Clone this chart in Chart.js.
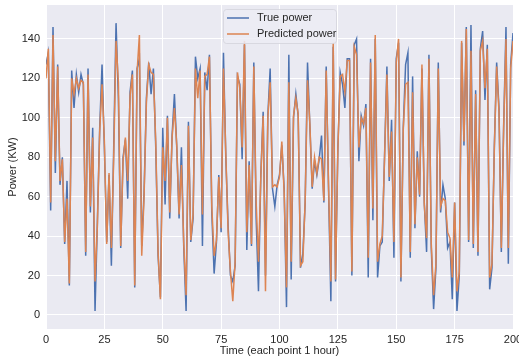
<!DOCTYPE html>
<html>
<head>
<meta charset="utf-8">
<script src="https://cdn.jsdelivr.net/npm/chart.js@4/dist/chart.umd.min.js"></script>
<style>
  html, body { margin: 0; padding: 0; background: #fff; }
  #wrap { width: 519px; height: 357px; }
</style>
</head>
<body>
<div id="wrap"><canvas id="myChart" width="519" height="357"></canvas></div>
<script>
// values, one per hour (0..200)
const truePower = [
  127, 133, 53, 146, 72, 127, 66, 80, 36, 68,
  15, 124, 105, 122, 113, 122, 117, 30, 125, 52,
  95, 2, 47, 95, 127, 85, 37, 71, 25, 85,
  148, 110, 34, 80, 89, 59, 113, 124, 14, 125,
  130, 35, 62, 110, 128, 112, 125, 85, 30, 9,
  95, 56, 101, 49, 91, 112, 85, 49, 85, 34,
  2, 98, 37, 49, 131, 120, 125, 35, 123, 114,
  132, 52, 21, 37, 71, 42, 133, 80, 45, 20,
  17, 25, 121, 117, 79, 137, 33, 78, 35, 128,
  49, 12, 71, 103, 20, 101, 125, 64, 55, 66,
  71, 86, 64, 4, 132, 18, 100, 112, 101, 24,
  31, 57, 128, 96, 64, 78, 71, 79, 91, 57,
  126, 64, 7, 136, 17, 85, 123, 117, 105, 130,
  130, 20, 137, 140, 78, 101, 96, 107, 19, 130,
  48, 140, 19, 35, 37, 81, 126, 68, 99, 29,
  130, 138, 17, 95, 127, 133, 29, 121, 44, 83,
  60, 125, 57, 32, 132, 34, 3, 24, 128, 52,
  66, 59, 34, 37, 8, 57, 2, 20, 138, 86,
  146, 37, 147, 34, 114, 30, 135, 144, 109, 137,
  13, 24, 85, 128, 105, 32, 96, 146, 26, 127,
  143
]

const predictedPower = [
  120, 135, 57, 142, 78, 126, 68, 79, 37, 59,
  16, 120, 112, 120, 115, 119, 118, 32, 122, 55,
  90, 17, 45, 93, 117, 88, 36, 72, 34, 80,
  139, 118, 35, 78, 90, 68, 111, 122, 15, 123,
  142, 30, 60, 108, 127, 123, 122, 88, 32, 8,
  85, 68, 100, 52, 90, 105, 86, 51, 76, 36,
  10, 96, 38, 51, 125, 110, 124, 51, 121, 122,
  131, 55, 30, 38, 70, 44, 125, 82, 42, 22,
  7, 27, 123, 115, 85, 139, 42, 76, 36, 126,
  57, 27, 70, 101, 12, 100, 118, 65, 66, 65,
  70, 88, 62, 14, 118, 27, 101, 110, 102, 25,
  27, 58, 119, 97, 65, 80, 72, 80, 79, 58,
  124, 66, 17, 138, 18, 84, 121, 122, 113, 129,
  129, 22, 136, 132, 85, 100, 97, 105, 29, 128,
  54, 142, 27, 36, 40, 80, 122, 70, 93, 37,
  128, 140, 19, 94, 117, 118, 32, 113, 46, 80,
  61, 127, 56, 39, 130, 36, 10, 26, 125, 55,
  59, 58, 42, 39, 19, 57, 12, 22, 139, 88,
  145, 38, 134, 36, 112, 32, 134, 139, 115, 135,
  19, 26, 84, 126, 103, 34, 95, 140, 34, 125,
  139
]

const seriesNames = ["True power", "Predicted power"]
const xTicks = [0, 25, 50, 75, 100, 125, 150, 175, 200]
const yTicks = [0, 20, 40, 60, 80, 100, 120, 140]

const hours = truePower.map((v, i) => i)

const bgPlugin = {
  id: 'bg',
  beforeDraw(chart) {
    const {ctx, chartArea: a} = chart
    ctx.save()
    ctx.fillStyle = '#EAEAF2'
    ctx.fillRect(a.left, a.top, a.right - a.left, a.bottom - a.top)
    ctx.restore()
  }
}

// legend drawn inside the plot, upper centre, like matplotlib
const innerLegend = {
  id: 'innerLegend',
  afterDraw(chart) {
    const ctx = chart.ctx
    const x = 223, y = 9, w = 113, h = 34
    ctx.save()
    ctx.fillStyle = 'rgba(236,236,244,0.85)'
    ctx.strokeStyle = 'rgba(214,214,222,0.9)'
    ctx.lineWidth = 1
    ctx.beginPath()
    ctx.roundRect(x + 0.5, y + 0.5, w, h, 3)
    ctx.fill()
    ctx.stroke()
    ctx.font = '11px "Liberation Sans", Arial, sans-serif'
    ctx.textBaseline = 'middle'
    chart.data.datasets.forEach((ds, i) => {
      const ly = y + 9 + i * 16
      ctx.strokeStyle = ds.borderColor
      ctx.lineWidth = 1.5
      ctx.beginPath()
      ctx.moveTo(x + 4, ly)
      ctx.lineTo(x + 26, ly)
      ctx.stroke()
      ctx.fillStyle = '#262626'
      ctx.fillText(ds.label, x + 34, ly)
    })
    ctx.restore()
  }
}

const create_chart = () => {
  const font = {family: '"Liberation Sans", Arial, sans-serif', size: 11}

  new Chart(document.getElementById("myChart"), {
    type: "line",
    data: {
      datasets: [{
        label: seriesNames[0],
        data: hours.map(h => ({x: h, y: truePower[h]})),
        borderColor: "#4C72B0",
        borderWidth: 1.5,
        pointRadius: 0,
        tension: 0,
        order: 1
      }, {
        label: seriesNames[1],
        data: hours.map(h => ({x: h, y: predictedPower[h]})),
        borderColor: "#DD8452",
        borderWidth: 1.5,
        pointRadius: 0,
        tension: 0,
        order: 0
      }]
    },
    options: {
      responsive: false,
      animation: false,
      layout: {padding: {left: 0, right: 6, top: 5, bottom: 0}},
      plugins: {legend: {display: false}, tooltip: {enabled: false}},
      scales: {
        x: {
          type: 'linear',
          min: 0,
          max: 200,
          afterBuildTicks: s => { s.ticks = xTicks.map(v => ({value: v})) },
          afterFit: s => { s.height = 28; s.paddingLeft = 0; s.paddingRight = 0 },
          grid: {color: '#ffffff', lineWidth: 1, drawTicks: false},
          border: {display: false},
          ticks: {font: font, color: '#262626', padding: 4, maxRotation: 0},
          title: {display: true, text: 'Time (each point 1 hour)', font: font, color: '#262626', padding: {top: 0, bottom: -1}}
        },
        y: {
          min: -7.1,
          max: 157.2,
          afterBuildTicks: s => { s.ticks = yTicks.map(v => ({value: v})) },
          afterFit: s => { s.width = 46; s.paddingTop = 0; s.paddingBottom = 0 },
          grid: {color: '#ffffff', lineWidth: 1, drawTicks: false},
          border: {display: false},
          ticks: {font: font, color: '#262626', padding: 6},
          title: {display: true, text: 'Power (KW)', font: font, color: '#262626', padding: {top: 6, bottom: 0}}
        }
      }
    },
    plugins: [bgPlugin, innerLegend]
  })
}

create_chart()
</script>
</body>
</html>
